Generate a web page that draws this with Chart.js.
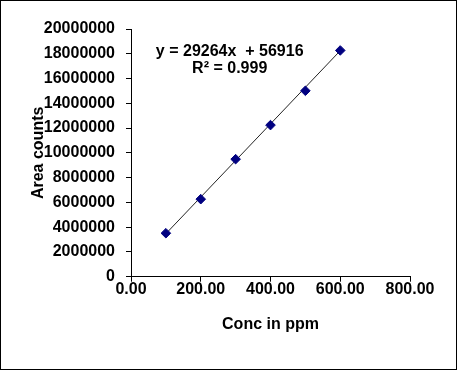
<!DOCTYPE html>
<html>
<head>
<meta charset="utf-8">
<script src="https://cdn.jsdelivr.net/npm/chart.js@4/dist/chart.umd.min.js"></script>
<style>
html,body{margin:0;padding:0;background:#fff;}
#wrap{width:457px;height:371px;position:relative;}
</style>
</head>
<body>
<div id="wrap"><canvas id="c" width="457" height="371"></canvas></div>
<script>
const concPpm = [100, 200, 300, 400, 500, 600];
const areaCounts = [3510000, 6260000, 9490000, 12240000, 15010000, 18270000];
const trendX = [100, 600];
const trendY = [3470000, 18250000];
const xTicks = [0, 200, 400, 600, 800];
const yTicks = [0, 2000000, 4000000, 6000000, 8000000, 10000000, 12000000, 14000000, 16000000, 18000000, 20000000];
const equationLines = ['y = 29264x  + 56916', 'R\u00B2 = 0.999'];
const xTitle = 'Conc in ppm';
const yTitle = 'Area counts';

const FONT = "'Liberation Sans', Arial, sans-serif";

const framePlugin = {
  id: 'frame',
  afterDraw(chart) {
    const ctx = chart.ctx;
    ctx.save();
    ctx.strokeStyle = '#000';
    ctx.lineWidth = 1;
    ctx.strokeRect(0.5, 0.5, 456, 369);
    ctx.fillStyle = '#000';
    ctx.font = 'bold 16px ' + FONT;
    ctx.textAlign = 'center';
    ctx.textBaseline = 'middle';
    const xs = chart.scales.x, ys = chart.scales.y;
    const cx = xs.getPixelForValue(283);
    ctx.fillText(equationLines[0], cx, ys.getPixelForValue(18200000));
    ctx.fillText(equationLines[1], cx, ys.getPixelForValue(16800000));
    ctx.restore();
  }
};

new Chart(document.getElementById('c'), {
  type: 'scatter',
  data: {
    datasets: [
      {
        data: concPpm.map((x, i) => ({x: x, y: areaCounts[i]})),
        pointStyle: 'rectRot',
        pointRadius: 4.8,
        pointBackgroundColor: '#000080',
        pointBorderColor: '#000080',
        pointBorderWidth: 1,
        showLine: false,
        order: 1
      },
      {
        data: trendX.map((x, i) => ({x: x, y: trendY[i]})),
        showLine: true,
        borderColor: '#222',
        borderWidth: 1,
        pointRadius: 0,
        fill: false,
        order: 2
      }
    ]
  },
  options: {
    responsive: false,
    animation: false,
    events: [],
    layout: {padding: {left: 0, top: 29, right: 47, bottom: 0}},
    plugins: {legend: {display: false}, tooltip: {enabled: false}},
    scales: {
      x: {
        type: 'linear',
        min: 0, max: 800,
        afterBuildTicks(s) { s.ticks = xTicks.map(v => ({value: v})); },
        afterFit(s) { s.height = 94.3; },
        ticks: {
          color: '#000',
          font: {family: FONT, size: 16, weight: 'bold'},
          padding: -2,
          maxRotation: 0,
          callback: v => Number(v).toFixed(2)
        },
        grid: {drawOnChartArea: false, drawTicks: true, tickLength: 5, color: '#000'},
        border: {display: true, color: '#000', width: 1},
        title: {
          display: true, text: xTitle, color: '#000',
          font: {family: FONT, size: 16, weight: 'bold'},
          padding: {top: 0, bottom: 37}
        }
      },
      y: {
        type: 'linear',
        min: 0, max: 20000000,
        afterBuildTicks(s) { s.ticks = yTicks.map(v => ({value: v})); },
        afterFit(s) { s.width = 131; },
        ticks: {
          color: '#000',
          font: {family: FONT, size: 16, weight: 'bold'},
          padding: 11,
          callback: v => String(v)
        },
        grid: {drawOnChartArea: false, drawTicks: true, tickLength: 5, color: '#000'},
        border: {display: true, color: '#000', width: 1},
        title: {
          display: true, text: yTitle, color: '#000',
          font: {family: FONT, size: 16, weight: 'bold'},
          padding: {top: 29, bottom: 0}
        }
      }
    }
  },
  plugins: [framePlugin]
});
</script>
</body>
</html>
